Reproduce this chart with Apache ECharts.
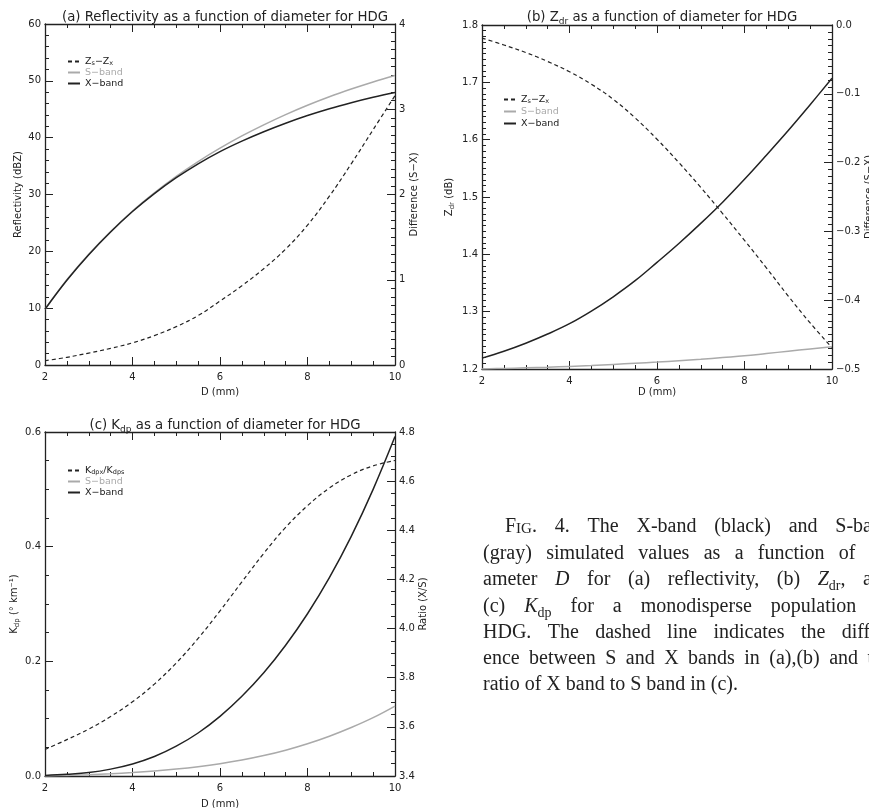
<!DOCTYPE html>
<html>
<head>
<meta charset="utf-8">
<script src="https://cdn.jsdelivr.net/npm/echarts@6.0.0/dist/echarts.min.js"></script>
<style>
html,body{margin:0;padding:0;background:#fff;}
#c{width:869px;height:808px;}
</style>
</head>
<body>
<div id="c"></div>
<script>
// ---------- DATA ----------
const diameter = [2, 2.5, 3, 3.5, 4, 4.5, 5, 5.5, 6, 6.5, 7, 7.5, 8, 8.5, 9, 9.5, 10];

// (a) reflectivity (dBZ) and difference S-X (dB)
const reflS    = [9.8, 15.0, 19.5, 23.5, 27.1, 30.3, 33.2, 35.8, 38.15, 40.3, 42.25, 44.05, 45.7, 47.2, 48.55, 49.8, 50.95];
const reflX    = [9.8, 14.9, 19.4, 23.4, 27.0, 30.15, 32.95, 35.4, 37.55, 39.4, 41.05, 42.55, 43.9, 45.1, 46.15, 47.1, 47.95];
const reflDiff = [0.05, 0.09, 0.14, 0.195, 0.26, 0.345, 0.45, 0.58, 0.75, 0.93, 1.13, 1.36, 1.64, 1.98, 2.36, 2.76, 3.16];

// (b) Zdr (dB) and difference S-X
const zdrS    = [1.200, 1.201, 1.202, 1.203, 1.2045, 1.206, 1.208, 1.210, 1.212, 1.2145, 1.217, 1.220, 1.223, 1.227, 1.231, 1.235, 1.239];
const zdrX    = [1.219, 1.231, 1.245, 1.261, 1.279, 1.301, 1.326, 1.354, 1.386, 1.419, 1.454, 1.491, 1.531, 1.573, 1.616, 1.661, 1.707];
const zdrDiff = [-0.019, -0.029, -0.040, -0.053, -0.068, -0.086, -0.108, -0.135, -0.166, -0.200, -0.236, -0.274, -0.313, -0.353, -0.394, -0.433, -0.469];

// (c) Kdp (deg/km) and ratio X/S
const kdpS     = [0.000, 0.001, 0.0022, 0.0038, 0.0059, 0.0086, 0.012, 0.0162, 0.0214, 0.0278, 0.0356, 0.045, 0.0562, 0.0694, 0.0846, 0.1018, 0.122];
const kdpX     = [0.001, 0.003, 0.006, 0.012, 0.021, 0.034, 0.052, 0.075, 0.104, 0.139, 0.180, 0.228, 0.283, 0.346, 0.418, 0.500, 0.592];
const kdpRatio = [3.508, 3.548, 3.591, 3.642, 3.702, 3.774, 3.860, 3.960, 4.072, 4.190, 4.306, 4.412, 4.500, 4.572, 4.626, 4.662, 4.684];

// axis ranges [min, max, interval]
const xRange     = [2, 10, 2];
const reflRange  = [0, 60, 10];
const diffARange = [0, 4, 1];
const zdrRange   = [1.2, 1.8, 0.1];
const diffBRange = [-0.5, 0, 0.1];
const kdpRange   = [0, 0.6, 0.2];
const ratioRange = [3.4, 4.8, 0.2];

// ---------- CHART ----------
const FONT = 'DejaVu Sans';
const INK = '#222';
const GRAY = '#aaaaaa';
const TFS = 13.3;
const pairs = (ys) => diameter.map((d, i) => [d, ys[i]]);

function xAx(grid, pos, labels, name, nameGap) {
  return {
    type: 'value', gridIndex: grid, position: pos,
    min: xRange[0], max: xRange[1], interval: xRange[2],
    axisLine: {show: true, onZero: false, lineStyle: {color: INK, width: 1.3}},
    axisTick: {show: true, inside: true, length: 8, lineStyle: {color: INK, width: 1}},
    minorTick: {show: true, splitNumber: 4, length: 4, lineStyle: {color: INK, width: 1}},
    splitLine: {show: false}, minorSplitLine: {show: false},
    axisLabel: {show: labels, color: INK, fontSize: 10, fontFamily: FONT, margin: 7},
    name: name || '', nameLocation: 'middle', nameGap: nameGap || 0,
    nameTextStyle: {color: INK, fontSize: 10, fontFamily: FONT}
  };
}
function yAx(grid, pos, r, minor, dec, name, nameGap, rich) {
  return {
    type: 'value', gridIndex: grid, position: pos,
    min: r[0], max: r[1], interval: r[2],
    axisLine: {show: true, onZero: false, lineStyle: {color: INK, width: 1.3}},
    axisTick: {show: true, inside: true, length: 8, lineStyle: {color: INK, width: 1}},
    minorTick: {show: true, splitNumber: minor, length: 4, lineStyle: {color: INK, width: 1}},
    splitLine: {show: false}, minorSplitLine: {show: false},
    axisLabel: {color: INK, fontSize: 10, fontFamily: FONT, margin: 4,
      formatter: (v) => v.toFixed(dec).replace('-', '−')},
    name: name, nameLocation: 'middle', nameGap: nameGap,
    nameTextStyle: {color: INK, fontSize: 10, fontFamily: FONT, rich: rich || {}}
  };
}
const subRich = {
  n: {fontSize: 10, fontFamily: FONT, color: INK, lineHeight: 14},
  s: {fontSize: 7, fontFamily: FONT, color: INK, verticalAlign: 'bottom', lineHeight: 9}
};
const titleRich = {
  n: {fontSize: TFS, fontFamily: FONT, color: INK, lineHeight: 17},
  s: {fontSize: 9, fontFamily: FONT, color: INK, verticalAlign: 'bottom', lineHeight: 10}
};

const legendNames = {
  aDiff: '{n|Z}{s|s}{n|−Z}{s|x}',
  bDiff: '{n|Z}{s|s}{n|−Z}{s|x}',
  cRatio: '{n|K}{s|dpx}{n|/K}{s|dps}',
  aS: 'S−band', bS: 'S−band', cS: 'S−band',
  aX: 'X−band', bX: 'X−band', cX: 'X−band'
};
const legRich = {
  n: {fontSize: 9.5, fontFamily: FONT, color: INK, lineHeight: 11},
  s: {fontSize: 6.5, fontFamily: FONT, color: INK, verticalAlign: 'bottom', lineHeight: 7}
};
function legend(names, left, top, gap) {
  return {
    orient: 'vertical', left: left, top: top, itemGap: gap,
    itemWidth: 12, itemHeight: 6, padding: 0, selectedMode: false,
    itemStyle: {opacity: 0},
    formatter: (n) => legendNames[n],
    textStyle: {fontSize: 9.5, fontFamily: FONT, color: INK, lineHeight: 11, rich: legRich},
    data: [
      {name: names[0]},
      {name: names[1], textStyle: {color: GRAY}},
      {name: names[2]}
    ]
  };
}
function line(name, xi, yi, ys, color, dashed, width) {
  return {
    name: name, type: 'line', xAxisIndex: xi, yAxisIndex: yi,
    data: pairs(ys), showSymbol: false, symbol: 'none', smooth: 0.4,
    clip: true, silent: true, animation: false,
    lineStyle: {color: color, width: width, type: dashed ? [4, 3] : 'solid'},
    itemStyle: {color: color}
  };
}

// ---------- caption (justified text) ----------
function captionGraphics() {
  const SERIF = '"Liberation Serif"';
  const FS = 20;
  const fonts = {
    r: FS + 'px ' + SERIF,
    sc: '15px ' + SERIF,
    i: 'italic ' + FS + 'px ' + SERIF,
    sub: '14px ' + SERIF
  };
  const dy = {r: 0, sc: 2, i: 0, sub: 6};
  const cv = document.createElement('canvas').getContext('2d');
  const measure = (style, t) => { cv.font = fonts[style]; return cv.measureText(t).width; };
  const R = 892;
  const lines = [
    {x: 505, y: 527, just: true, words: [[['r','F'],['sc','IG'],['r','.']], [['r','4.']], [['r','The']], [['r','X-band']], [['r','(black)']], [['r','and']], [['r','S-band']]]},
    {x: 483, y: 554, just: true, words: '(gray) simulated values as a function of di-'.split(' ').map(w => [['r', w]])},
    {x: 483, y: 580, just: true, words: [[['r','ameter']], [['i','D']], [['r','for']], [['r','(a)']], [['r','reflectivity,']], [['r','(b)']], [['i','Z'],['sub','dr'],['r',',']], [['r','and']]]},
    {x: 483, y: 607, just: true, words: [[['r','(c)']], [['i','K'],['sub','dp']], [['r','for']], [['r','a']], [['r','monodisperse']], [['r','population']], [['r','of']]]},
    {x: 483, y: 633, just: true, words: 'HDG. The dashed line indicates the differ-'.split(' ').map(w => [['r', w]])},
    {x: 483, y: 659, just: true, words: 'ence between S and X bands in (a),(b) and the'.split(' ').map(w => [['r', w]])},
    {x: 483, y: 685, just: false, words: 'ratio of X band to S band in (c).'.split(' ').map(w => [['r', w]])}
  ];
  const out = [];
  lines.forEach(L => {
    const widths = L.words.map(w => w.reduce((s, seg) => s + measure(seg[0], seg[1]), 0));
    const total = widths.reduce((a, b) => a + b, 0);
    const gap = L.just ? (R - L.x - total) / (L.words.length - 1) : measure('r', ' ');
    let x = L.x;
    L.words.forEach((w, wi) => {
      let sx = x;
      w.forEach(seg => {
        out.push({type: 'text', x: sx, y: L.y + dy[seg[0]], silent: true,
          style: {text: seg[1], font: fonts[seg[0]], fill: '#222', verticalAlign: 'middle', align: 'left'}});
        sx += measure(seg[0], seg[1]);
      });
      x += widths[wi] + gap;
    });
  });
  return out;
}

const chart = echarts.init(document.getElementById('c'), null, {renderer: 'canvas'});
const option = {
  animation: false,
  backgroundColor: '#fff',
  title: [
    {text: '(a) Reflectivity as a function of diameter for HDG', left: 220, top: 6, textAlign: 'center',
      textStyle: {fontSize: TFS, fontFamily: FONT, color: INK, fontWeight: 'normal'}},
    {text: '{n|(b) Z}{s|dr}{n| as a function of diameter for HDG}', left: 657, top: 4, textAlign: 'center',
      textStyle: {fontSize: TFS, fontFamily: FONT, color: INK, fontWeight: 'normal', rich: titleRich}},
    {text: '{n|(c) K}{s|dp}{n| as a function of diameter for HDG}', left: 220, top: 412, textAlign: 'center',
      textStyle: {fontSize: TFS, fontFamily: FONT, color: INK, fontWeight: 'normal', rich: titleRich}}
  ],
  legend: [
    legend(['aDiff', 'aS', 'aX'], 67, 56, 0),
    legend(['bDiff', 'bS', 'bX'], 503, 94, 1),
    legend(['cRatio', 'cS', 'cX'], 67, 465, 0)
  ],
  grid: [
    {left: 45, top: 24, width: 350, height: 341, outerBoundsMode: 'none', containLabel: false},
    {left: 482, top: 25, width: 350, height: 344, outerBoundsMode: 'none', containLabel: false},
    {left: 45, top: 432, width: 350, height: 344, outerBoundsMode: 'none', containLabel: false}
  ],
  xAxis: [
    xAx(0, 'bottom', true, 'D (mm)', 22),
    xAx(0, 'top', false),
    xAx(1, 'bottom', true, 'D (mm)', 18),
    xAx(1, 'top', false),
    xAx(2, 'bottom', true, 'D (mm)', 23),
    xAx(2, 'top', false)
  ],
  yAxis: [
    yAx(0, 'left', reflRange, 5, 0, 'Reflectivity (dBZ)', 22),
    yAx(0, 'right', diffARange, 10, 0, 'Difference (S−X)', 14),
    yAx(1, 'left', zdrRange, 10, 1, '{n|Z}{s|dr}{n| (dB)}', 26, subRich),
    yAx(1, 'right', diffBRange, 10, 1, 'Difference (S−X)', 31),
    yAx(2, 'left', kdpRange, 4, 1, '{n|K}{s|dp}{n| (° km⁻¹)}', 24, subRich),
    yAx(2, 'right', ratioRange, 4, 1, 'Ratio (X/S)', 23)
  ],
  series: [
    line('aDiff', 0, 1, reflDiff, INK, true, 1.2),
    line('aS', 0, 0, reflS, GRAY, false, 1.5),
    line('aX', 0, 0, reflX, INK, false, 1.5),
    line('bDiff', 2, 3, zdrDiff, INK, true, 1.2),
    line('bS', 2, 2, zdrS, GRAY, false, 1.5),
    line('bX', 2, 2, zdrX, INK, false, 1.5),
    line('cRatio', 4, 5, kdpRatio, INK, true, 1.2),
    line('cS', 4, 4, kdpS, GRAY, false, 1.5),
    line('cX', 4, 4, kdpX, INK, false, 1.5)
  ],
  graphic: captionGraphics()
};
chart.setOption(option);
</script>
</body>
</html>
